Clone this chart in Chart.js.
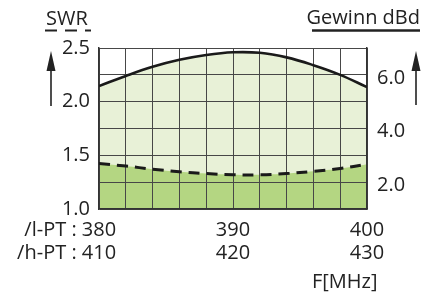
<!DOCTYPE html>
<html><head><meta charset="utf-8">
<script src="https://cdn.jsdelivr.net/npm/chart.js@4/dist/chart.umd.min.js"></script>
<style>html,body{margin:0;padding:0;background:#fff}#wrap{width:424px;height:296px;background:#fff}</style>
</head><body><div id="wrap"><canvas id="c" width="424" height="296"></canvas></div>
<script>
// ---- data ----
const freqLow  = [380, 382, 384, 386, 388, 390, 392, 394, 396, 398, 400]; // /l-PT MHz
const freqHigh = [410, 412, 414, 416, 418, 420, 422, 424, 426, 428, 430]; // /h-PT MHz
const gainDBd  = [5.58, 5.96, 6.30, 6.56, 6.74, 6.84, 6.82, 6.65, 6.36, 6.00, 5.54];
const swrVals  = [1.424, 1.400, 1.371, 1.347, 1.330, 1.319, 1.318, 1.330, 1.351, 1.377, 1.418];
const xLabelLow  = [380, 390, 400];
const xLabelHigh = [410, 420, 430];
const swrTicks   = [1.0, 1.25, 1.5, 1.75, 2.0, 2.25, 2.5];
const swrTickLabels  = [1.0, 1.5, 2.0, 2.5];
const gainTicks  = [1, 2, 3, 4, 5, 6, 7];
const gainTickLabels = [2.0, 4.0, 6.0];

const FONT = "'Open Sans', 'DejaVu Sans', sans-serif";
const FS = 20;
const TXT = '#222';

const decor = {
  id: 'decor',
  afterDraw(chart) {
    const ctx = chart.ctx;
    ctx.save();
    ctx.fillStyle = TXT;
    ctx.strokeStyle = TXT;
    ctx.font = FS + 'px ' + FONT;
    ctx.textBaseline = 'middle';
    // SWR title
    ctx.textAlign = 'left';
    ctx.fillText('SWR', 46, 19);
    ctx.lineWidth = 2.2;
    ctx.setLineDash([12, 8]);
    ctx.beginPath(); ctx.moveTo(45, 30.5); ctx.lineTo(91, 30.5); ctx.stroke();
    ctx.setLineDash([]);
    // Gain title
    ctx.textAlign = 'right';
    ctx.fillText('Gewinn dBd', 420, 18);
    ctx.lineWidth = 2.5;
    ctx.beginPath(); ctx.moveTo(312, 30.5); ctx.lineTo(420, 30.5); ctx.stroke();
    // arrows
    function arrow(x, yTip, yEnd) {
      ctx.lineWidth = 1.6;
      ctx.beginPath(); ctx.moveTo(x, yTip + 10); ctx.lineTo(x, yEnd); ctx.stroke();
      ctx.beginPath(); ctx.moveTo(x, yTip); ctx.lineTo(x - 4.5, yTip + 20); ctx.lineTo(x + 4.5, yTip + 20); ctx.closePath(); ctx.fill();
    }
    arrow(51, 51, 106);
    arrow(416, 51, 105);
    // x-axis prefixes
    const xs = chart.scales.x;
    const lh = FS * 1.15;
    const y1 = xs.top + 10 + lh / 2;
    ctx.textAlign = 'right';
    const w380 = ctx.measureText('380').width;
    const xr = xs.getPixelForValue(xLabelLow[0]) - w380 / 2;
    ctx.fillText('/l-PT : ', xr, y1);
    ctx.fillText('/h-PT : ', xr, y1 + lh);
    // unit
    ctx.textAlign = 'left';
    ctx.fillText('F[MHz]', 312, 282);
    ctx.restore();
  }
};

const near = (arr, v) => arr.some(t => Math.abs(t - v) < 1e-6);

new Chart(document.getElementById('c'), {
  type: 'line',
  data: {
    datasets: [
      {
        label: 'SWR',
        data: freqLow.map((f, i) => ({ x: f, y: swrVals[i] })),
        yAxisID: 'y',
        borderColor: '#1a1a1a',
        borderWidth: 3,
        borderDash: [11, 7],
        pointRadius: 0,
        tension: 0.4,
        fill: 'start',
        backgroundColor: '#b4d682',
        order: 0
      },
      {
        label: 'Gewinn',
        data: freqLow.map((f, i) => ({ x: f, y: gainDBd[i] })),
        yAxisID: 'y2',
        borderColor: '#1a1a1a',
        borderWidth: 2.6,
        pointRadius: 0,
        tension: 0.4,
        fill: 'start',
        backgroundColor: '#e8f1d7',
        order: 1
      }
    ]
  },
  options: {
    responsive: false,
    animation: false,
    layout: { padding: { top: 48, left: 0, right: 0, bottom: 0 } },
    plugins: {
      legend: { display: false },
      tooltip: { enabled: false },
      filler: { drawTime: 'beforeDraw' }
    },
    scales: {
      x: {
        type: 'linear',
        min: 380, max: 400,
        afterFit(s) { s.height = 87; },
        afterBuildTicks(s) { s.ticks = freqLow.map(v => ({ value: v })); },
        grid: { color: '#474747', lineWidth: 1, drawTicks: false },
        border: { color: '#333', width: 1.5 },
        ticks: {
          autoSkip: false,
          maxRotation: 0,
          padding: 10,
          color: TXT,
          font: { family: FONT, size: FS, lineHeight: 1.15 },
          callback(v) {
            const k = xLabelLow.indexOf(v);
            return k >= 0 ? [String(xLabelLow[k]), String(xLabelHigh[k])] : '';
          }
        }
      },
      y: {
        position: 'left',
        min: 1.0, max: 2.5,
        afterFit(s) { s.width = 99; },
        afterBuildTicks(s) { s.ticks = swrTicks.map(v => ({ value: v })); },
        grid: { color: '#474747', lineWidth: 1, drawTicks: false },
        border: { color: '#333', width: 1.5 },
        ticks: {
          autoSkip: false,
          padding: 9,
          color: TXT,
          font: { family: FONT, size: FS },
          callback(v) { return near(swrTickLabels, v) ? v.toFixed(1) : ''; }
        }
      },
      y2: {
        position: 'right',
        min: 1, max: 7,
        afterFit(s) { s.width = 57; },
        afterBuildTicks(s) { s.ticks = gainTicks.map(v => ({ value: v })); },
        grid: { drawOnChartArea: false, drawTicks: false },
        border: { color: '#333', width: 1.5 },
        ticks: {
          autoSkip: false,
          padding: 10,
          labelOffset: 3,
          color: TXT,
          font: { family: FONT, size: FS },
          callback(v) { return near(gainTickLabels, v) ? v.toFixed(1) : ''; }
        }
      }
    }
  },
  plugins: [decor]
});
</script></body></html>
